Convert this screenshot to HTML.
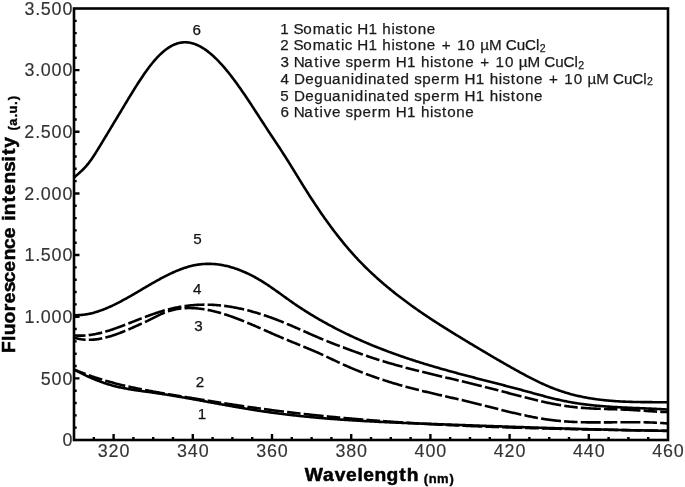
<!DOCTYPE html><html><head><meta charset="utf-8"><style>html,body{margin:0;padding:0;background:#fff;overflow:hidden;width:685px;height:487px;}svg{display:block;will-change:transform;}text{font-family:"Liberation Sans",sans-serif;}</style></head><body>
<svg width="685" height="487" viewBox="0 0 685 487">
<rect width="685" height="487" fill="#fff"/>
<defs><clipPath id="pc"><rect x="74.0" y="8.5" width="594.0" height="431.5"/></clipPath></defs>
<g clip-path="url(#pc)" fill="none" stroke="#000" stroke-width="2.60" stroke-linejoin="round">
<path d="M74.00 177.55 L75.00 176.69 L76.00 175.84 L77.00 174.98 L78.00 174.11 L79.00 173.23 L80.00 172.33 L81.00 171.41 L82.00 170.47 L83.00 169.49 L84.00 168.47 L85.00 167.41 L86.00 166.31 L87.00 165.15 L88.00 163.94 L89.00 162.66 L90.00 161.32 L91.00 159.93 L92.00 158.49 L93.00 157.01 L94.00 155.48 L95.00 153.93 L96.00 152.34 L97.00 150.74 L98.00 149.12 L99.00 147.49 L100.00 145.86 L101.00 144.22 L102.00 142.58 L103.00 140.93 L104.00 139.29 L105.00 137.64 L106.00 135.98 L107.00 134.33 L108.00 132.67 L109.00 131.02 L110.00 129.36 L111.00 127.69 L112.00 126.03 L113.00 124.37 L114.00 122.70 L115.00 121.04 L116.00 119.37 L117.00 117.71 L118.00 116.04 L119.00 114.38 L120.00 112.71 L121.00 111.05 L122.00 109.38 L123.00 107.72 L124.00 106.06 L125.00 104.40 L126.00 102.74 L127.00 101.08 L128.00 99.43 L129.00 97.77 L130.00 96.13 L131.00 94.49 L132.00 92.86 L133.00 91.23 L134.00 89.62 L135.00 88.02 L136.00 86.42 L137.00 84.85 L138.00 83.28 L139.00 81.73 L140.00 80.20 L141.00 78.68 L142.00 77.19 L143.00 75.71 L144.00 74.25 L145.00 72.82 L146.00 71.41 L147.00 70.02 L148.00 68.66 L149.00 67.32 L150.00 66.02 L151.00 64.74 L152.00 63.49 L153.00 62.27 L154.00 61.09 L155.00 59.94 L156.00 58.82 L157.00 57.73 L158.00 56.68 L159.00 55.66 L160.00 54.68 L161.00 53.73 L162.00 52.82 L163.00 51.94 L164.00 51.10 L165.00 50.29 L166.00 49.53 L167.00 48.79 L168.00 48.10 L169.00 47.44 L170.00 46.82 L171.00 46.24 L172.00 45.70 L173.00 45.19 L174.00 44.73 L175.00 44.30 L176.00 43.92 L177.00 43.57 L178.00 43.27 L179.00 43.00 L180.00 42.78 L181.00 42.60 L182.00 42.46 L183.00 42.36 L184.00 42.30 L185.00 42.28 L186.00 42.30 L187.00 42.35 L188.00 42.45 L189.00 42.58 L190.00 42.75 L191.00 42.96 L192.00 43.20 L193.00 43.48 L194.00 43.80 L195.00 44.14 L196.00 44.53 L197.00 44.94 L198.00 45.39 L199.00 45.88 L200.00 46.39 L201.00 46.94 L202.00 47.52 L203.00 48.13 L204.00 48.77 L205.00 49.44 L206.00 50.14 L207.00 50.87 L208.00 51.63 L209.00 52.41 L210.00 53.22 L211.00 54.06 L212.00 54.93 L213.00 55.82 L214.00 56.74 L215.00 57.69 L216.00 58.65 L217.00 59.65 L218.00 60.66 L219.00 61.70 L220.00 62.77 L221.00 63.85 L222.00 64.96 L223.00 66.09 L224.00 67.23 L225.00 68.40 L226.00 69.59 L227.00 70.80 L228.00 72.03 L229.00 73.27 L230.00 74.54 L231.00 75.82 L232.00 77.12 L233.00 78.43 L234.00 79.77 L235.00 81.11 L236.00 82.47 L237.00 83.85 L238.00 85.24 L239.00 86.65 L240.00 88.06 L241.00 89.49 L242.00 90.94 L243.00 92.39 L244.00 93.85 L245.00 95.32 L246.00 96.81 L247.00 98.30 L248.00 99.79 L249.00 101.30 L250.00 102.81 L251.00 104.33 L252.00 105.85 L253.00 107.38 L254.00 108.91 L255.00 110.45 L256.00 111.99 L257.00 113.53 L258.00 115.07 L259.00 116.61 L260.00 118.15 L261.00 119.70 L262.00 121.24 L263.00 122.78 L264.00 124.31 L265.00 125.85 L266.00 127.38 L267.00 128.90 L268.00 130.42 L269.00 131.94 L270.00 133.45 L271.00 134.96 L272.00 136.47 L273.00 137.97 L274.00 139.48 L275.00 140.99 L276.00 142.50 L277.00 144.01 L278.00 145.52 L279.00 147.04 L280.00 148.57 L281.00 150.10 L282.00 151.64 L283.00 153.19 L284.00 154.74 L285.00 156.31 L286.00 157.89 L287.00 159.47 L288.00 161.06 L289.00 162.67 L290.00 164.27 L291.00 165.89 L292.00 167.50 L293.00 169.12 L294.00 170.75 L295.00 172.37 L296.00 174.00 L297.00 175.63 L298.00 177.26 L299.00 178.88 L300.00 180.51 L301.00 182.13 L302.00 183.74 L303.00 185.35 L304.00 186.96 L305.00 188.56 L306.00 190.15 L307.00 191.74 L308.00 193.31 L309.00 194.88 L310.00 196.44 L311.00 197.99 L312.00 199.53 L313.00 201.05 L314.00 202.57 L315.00 204.09 L316.00 205.59 L317.00 207.08 L318.00 208.56 L319.00 210.03 L320.00 211.49 L321.00 212.95 L322.00 214.39 L323.00 215.82 L324.00 217.25 L325.00 218.66 L326.00 220.07 L327.00 221.46 L328.00 222.84 L329.00 224.22 L330.00 225.58 L331.00 226.94 L332.00 228.28 L333.00 229.61 L334.00 230.94 L335.00 232.25 L336.00 233.55 L337.00 234.85 L338.00 236.13 L339.00 237.40 L340.00 238.66 L341.00 239.91 L342.00 241.15 L343.00 242.38 L344.00 243.60 L345.00 244.81 L346.00 246.01 L347.00 247.19 L348.00 248.37 L349.00 249.53 L350.00 250.69 L351.00 251.83 L352.00 252.96 L353.00 254.08 L354.00 255.19 L355.00 256.29 L356.00 257.38 L357.00 258.46 L358.00 259.53 L359.00 260.58 L360.00 261.63 L361.00 262.67 L362.00 263.69 L363.00 264.71 L364.00 265.72 L365.00 266.72 L366.00 267.71 L367.00 268.69 L368.00 269.66 L369.00 270.62 L370.00 271.58 L371.00 272.52 L372.00 273.46 L373.00 274.39 L374.00 275.32 L375.00 276.23 L376.00 277.14 L377.00 278.04 L378.00 278.93 L379.00 279.81 L380.00 280.69 L381.00 281.56 L382.00 282.43 L383.00 283.29 L384.00 284.14 L385.00 284.99 L386.00 285.83 L387.00 286.66 L388.00 287.49 L389.00 288.31 L390.00 289.13 L391.00 289.95 L392.00 290.75 L393.00 291.56 L394.00 292.36 L395.00 293.15 L396.00 293.94 L397.00 294.72 L398.00 295.50 L399.00 296.27 L400.00 297.04 L401.00 297.81 L402.00 298.57 L403.00 299.33 L404.00 300.08 L405.00 300.83 L406.00 301.57 L407.00 302.31 L408.00 303.05 L409.00 303.78 L410.00 304.51 L411.00 305.23 L412.00 305.95 L413.00 306.67 L414.00 307.38 L415.00 308.09 L416.00 308.79 L417.00 309.49 L418.00 310.19 L419.00 310.89 L420.00 311.58 L421.00 312.27 L422.00 312.95 L423.00 313.63 L424.00 314.31 L425.00 314.99 L426.00 315.66 L427.00 316.33 L428.00 317.00 L429.00 317.66 L430.00 318.32 L431.00 318.98 L432.00 319.64 L433.00 320.29 L434.00 320.94 L435.00 321.59 L436.00 322.24 L437.00 322.88 L438.00 323.53 L439.00 324.17 L440.00 324.80 L441.00 325.44 L442.00 326.07 L443.00 326.71 L444.00 327.34 L445.00 327.96 L446.00 328.59 L447.00 329.22 L448.00 329.84 L449.00 330.46 L450.00 331.08 L451.00 331.70 L452.00 332.32 L453.00 332.93 L454.00 333.55 L455.00 334.16 L456.00 334.77 L457.00 335.39 L458.00 336.00 L459.00 336.61 L460.00 337.21 L461.00 337.82 L462.00 338.43 L463.00 339.04 L464.00 339.64 L465.00 340.25 L466.00 340.85 L467.00 341.46 L468.00 342.06 L469.00 342.66 L470.00 343.27 L471.00 343.87 L472.00 344.47 L473.00 345.07 L474.00 345.67 L475.00 346.27 L476.00 346.87 L477.00 347.47 L478.00 348.07 L479.00 348.66 L480.00 349.26 L481.00 349.86 L482.00 350.45 L483.00 351.04 L484.00 351.64 L485.00 352.23 L486.00 352.82 L487.00 353.41 L488.00 354.00 L489.00 354.59 L490.00 355.18 L491.00 355.77 L492.00 356.35 L493.00 356.94 L494.00 357.52 L495.00 358.10 L496.00 358.69 L497.00 359.27 L498.00 359.85 L499.00 360.43 L500.00 361.00 L501.00 361.58 L502.00 362.16 L503.00 362.73 L504.00 363.31 L505.00 363.88 L506.00 364.45 L507.00 365.02 L508.00 365.59 L509.00 366.16 L510.00 366.72 L511.00 367.29 L512.00 367.85 L513.00 368.41 L514.00 368.98 L515.00 369.54 L516.00 370.09 L517.00 370.65 L518.00 371.20 L519.00 371.75 L520.00 372.30 L521.00 372.85 L522.00 373.39 L523.00 373.94 L524.00 374.47 L525.00 375.01 L526.00 375.54 L527.00 376.07 L528.00 376.60 L529.00 377.12 L530.00 377.64 L531.00 378.15 L532.00 378.66 L533.00 379.17 L534.00 379.67 L535.00 380.17 L536.00 380.66 L537.00 381.15 L538.00 381.64 L539.00 382.12 L540.00 382.59 L541.00 383.06 L542.00 383.52 L543.00 383.98 L544.00 384.43 L545.00 384.88 L546.00 385.32 L547.00 385.75 L548.00 386.18 L549.00 386.60 L550.00 387.02 L551.00 387.43 L552.00 387.83 L553.00 388.22 L554.00 388.61 L555.00 388.99 L556.00 389.37 L557.00 389.73 L558.00 390.09 L559.00 390.45 L560.00 390.79 L561.00 391.13 L562.00 391.46 L563.00 391.79 L564.00 392.11 L565.00 392.42 L566.00 392.72 L567.00 393.02 L568.00 393.31 L569.00 393.60 L570.00 393.88 L571.00 394.15 L572.00 394.42 L573.00 394.68 L574.00 394.94 L575.00 395.19 L576.00 395.43 L577.00 395.67 L578.00 395.90 L579.00 396.13 L580.00 396.35 L581.00 396.56 L582.00 396.77 L583.00 396.98 L584.00 397.18 L585.00 397.37 L586.00 397.56 L587.00 397.74 L588.00 397.92 L589.00 398.10 L590.00 398.27 L591.00 398.43 L592.00 398.59 L593.00 398.75 L594.00 398.90 L595.00 399.04 L596.00 399.18 L597.00 399.32 L598.00 399.45 L599.00 399.58 L600.00 399.71 L601.00 399.83 L602.00 399.94 L603.00 400.06 L604.00 400.16 L605.00 400.27 L606.00 400.37 L607.00 400.47 L608.00 400.56 L609.00 400.65 L610.00 400.74 L611.00 400.82 L612.00 400.90 L613.00 400.98 L614.00 401.05 L615.00 401.12 L616.00 401.19 L617.00 401.25 L618.00 401.31 L619.00 401.37 L620.00 401.43 L621.00 401.48 L622.00 401.53 L623.00 401.58 L624.00 401.63 L625.00 401.67 L626.00 401.71 L627.00 401.75 L628.00 401.78 L629.00 401.82 L630.00 401.85 L631.00 401.88 L632.00 401.91 L633.00 401.93 L634.00 401.96 L635.00 401.98 L636.00 402.00 L637.00 402.02 L638.00 402.04 L639.00 402.06 L640.00 402.07 L641.00 402.09 L642.00 402.10 L643.00 402.11 L644.00 402.12 L645.00 402.13 L646.00 402.14 L647.00 402.15 L648.00 402.15 L649.00 402.16 L650.00 402.16 L651.00 402.17 L652.00 402.17 L653.00 402.18 L654.00 402.18 L655.00 402.18 L656.00 402.19 L657.00 402.19 L658.00 402.19 L659.00 402.19 L660.00 402.20 L661.00 402.20 L662.00 402.20 L663.00 402.21 L664.00 402.21 L665.00 402.21 L666.00 402.22 L667.00 402.22 L668.00 402.23"/>
<path d="M74.00 315.13 L75.00 315.17 L76.00 315.19 L77.00 315.18 L78.00 315.16 L79.00 315.13 L80.00 315.07 L81.00 315.00 L82.00 314.91 L83.00 314.81 L84.00 314.69 L85.00 314.55 L86.00 314.40 L87.00 314.23 L88.00 314.04 L89.00 313.85 L90.00 313.63 L91.00 313.40 L92.00 313.16 L93.00 312.91 L94.00 312.64 L95.00 312.36 L96.00 312.06 L97.00 311.76 L98.00 311.44 L99.00 311.10 L100.00 310.76 L101.00 310.40 L102.00 310.04 L103.00 309.66 L104.00 309.27 L105.00 308.87 L106.00 308.47 L107.00 308.05 L108.00 307.62 L109.00 307.18 L110.00 306.73 L111.00 306.28 L112.00 305.81 L113.00 305.34 L114.00 304.86 L115.00 304.37 L116.00 303.88 L117.00 303.38 L118.00 302.87 L119.00 302.35 L120.00 301.83 L121.00 301.30 L122.00 300.77 L123.00 300.23 L124.00 299.69 L125.00 299.14 L126.00 298.58 L127.00 298.03 L128.00 297.46 L129.00 296.90 L130.00 296.33 L131.00 295.76 L132.00 295.18 L133.00 294.60 L134.00 294.02 L135.00 293.44 L136.00 292.86 L137.00 292.27 L138.00 291.68 L139.00 291.10 L140.00 290.51 L141.00 289.92 L142.00 289.33 L143.00 288.74 L144.00 288.15 L145.00 287.56 L146.00 286.97 L147.00 286.39 L148.00 285.80 L149.00 285.22 L150.00 284.64 L151.00 284.06 L152.00 283.49 L153.00 282.91 L154.00 282.34 L155.00 281.78 L156.00 281.21 L157.00 280.66 L158.00 280.10 L159.00 279.55 L160.00 279.01 L161.00 278.47 L162.00 277.93 L163.00 277.40 L164.00 276.88 L165.00 276.37 L166.00 275.86 L167.00 275.35 L168.00 274.86 L169.00 274.37 L170.00 273.89 L171.00 273.41 L172.00 272.95 L173.00 272.49 L174.00 272.04 L175.00 271.60 L176.00 271.17 L177.00 270.75 L178.00 270.34 L179.00 269.94 L180.00 269.55 L181.00 269.17 L182.00 268.81 L183.00 268.45 L184.00 268.10 L185.00 267.77 L186.00 267.45 L187.00 267.14 L188.00 266.84 L189.00 266.56 L190.00 266.29 L191.00 266.03 L192.00 265.79 L193.00 265.56 L194.00 265.34 L195.00 265.14 L196.00 264.96 L197.00 264.79 L198.00 264.63 L199.00 264.49 L200.00 264.36 L201.00 264.25 L202.00 264.15 L203.00 264.06 L204.00 263.99 L205.00 263.94 L206.00 263.90 L207.00 263.87 L208.00 263.85 L209.00 263.85 L210.00 263.86 L211.00 263.89 L212.00 263.93 L213.00 263.99 L214.00 264.05 L215.00 264.13 L216.00 264.23 L217.00 264.33 L218.00 264.45 L219.00 264.58 L220.00 264.73 L221.00 264.89 L222.00 265.06 L223.00 265.24 L224.00 265.44 L225.00 265.65 L226.00 265.87 L227.00 266.10 L228.00 266.34 L229.00 266.60 L230.00 266.87 L231.00 267.15 L232.00 267.44 L233.00 267.75 L234.00 268.07 L235.00 268.39 L236.00 268.73 L237.00 269.08 L238.00 269.45 L239.00 269.82 L240.00 270.20 L241.00 270.60 L242.00 271.01 L243.00 271.43 L244.00 271.85 L245.00 272.29 L246.00 272.74 L247.00 273.20 L248.00 273.68 L249.00 274.16 L250.00 274.65 L251.00 275.15 L252.00 275.66 L253.00 276.19 L254.00 276.72 L255.00 277.26 L256.00 277.82 L257.00 278.38 L258.00 278.95 L259.00 279.53 L260.00 280.12 L261.00 280.72 L262.00 281.33 L263.00 281.95 L264.00 282.58 L265.00 283.22 L266.00 283.87 L267.00 284.52 L268.00 285.18 L269.00 285.85 L270.00 286.53 L271.00 287.21 L272.00 287.90 L273.00 288.59 L274.00 289.29 L275.00 290.00 L276.00 290.70 L277.00 291.41 L278.00 292.13 L279.00 292.84 L280.00 293.56 L281.00 294.28 L282.00 295.00 L283.00 295.72 L284.00 296.44 L285.00 297.16 L286.00 297.88 L287.00 298.59 L288.00 299.31 L289.00 300.02 L290.00 300.73 L291.00 301.43 L292.00 302.13 L293.00 302.83 L294.00 303.52 L295.00 304.20 L296.00 304.88 L297.00 305.56 L298.00 306.23 L299.00 306.90 L300.00 307.56 L301.00 308.21 L302.00 308.86 L303.00 309.51 L304.00 310.15 L305.00 310.79 L306.00 311.42 L307.00 312.05 L308.00 312.68 L309.00 313.29 L310.00 313.91 L311.00 314.52 L312.00 315.13 L313.00 315.73 L314.00 316.33 L315.00 316.92 L316.00 317.51 L317.00 318.10 L318.00 318.68 L319.00 319.26 L320.00 319.83 L321.00 320.41 L322.00 320.97 L323.00 321.54 L324.00 322.10 L325.00 322.65 L326.00 323.21 L327.00 323.76 L328.00 324.30 L329.00 324.85 L330.00 325.39 L331.00 325.92 L332.00 326.45 L333.00 326.98 L334.00 327.51 L335.00 328.03 L336.00 328.55 L337.00 329.07 L338.00 329.58 L339.00 330.09 L340.00 330.59 L341.00 331.10 L342.00 331.60 L343.00 332.09 L344.00 332.58 L345.00 333.08 L346.00 333.56 L347.00 334.05 L348.00 334.53 L349.00 335.00 L350.00 335.48 L351.00 335.95 L352.00 336.42 L353.00 336.89 L354.00 337.35 L355.00 337.81 L356.00 338.26 L357.00 338.72 L358.00 339.17 L359.00 339.62 L360.00 340.06 L361.00 340.51 L362.00 340.95 L363.00 341.38 L364.00 341.82 L365.00 342.25 L366.00 342.68 L367.00 343.10 L368.00 343.53 L369.00 343.95 L370.00 344.37 L371.00 344.78 L372.00 345.20 L373.00 345.61 L374.00 346.02 L375.00 346.42 L376.00 346.82 L377.00 347.22 L378.00 347.62 L379.00 348.02 L380.00 348.41 L381.00 348.80 L382.00 349.19 L383.00 349.58 L384.00 349.96 L385.00 350.34 L386.00 350.72 L387.00 351.10 L388.00 351.47 L389.00 351.85 L390.00 352.22 L391.00 352.59 L392.00 352.95 L393.00 353.32 L394.00 353.68 L395.00 354.04 L396.00 354.40 L397.00 354.75 L398.00 355.10 L399.00 355.46 L400.00 355.81 L401.00 356.15 L402.00 356.50 L403.00 356.84 L404.00 357.18 L405.00 357.52 L406.00 357.86 L407.00 358.20 L408.00 358.53 L409.00 358.87 L410.00 359.20 L411.00 359.53 L412.00 359.85 L413.00 360.18 L414.00 360.50 L415.00 360.82 L416.00 361.15 L417.00 361.46 L418.00 361.78 L419.00 362.10 L420.00 362.41 L421.00 362.72 L422.00 363.04 L423.00 363.34 L424.00 363.65 L425.00 363.96 L426.00 364.26 L427.00 364.57 L428.00 364.87 L429.00 365.17 L430.00 365.47 L431.00 365.77 L432.00 366.07 L433.00 366.36 L434.00 366.66 L435.00 366.95 L436.00 367.24 L437.00 367.53 L438.00 367.82 L439.00 368.11 L440.00 368.40 L441.00 368.68 L442.00 368.97 L443.00 369.25 L444.00 369.53 L445.00 369.81 L446.00 370.09 L447.00 370.37 L448.00 370.65 L449.00 370.93 L450.00 371.21 L451.00 371.48 L452.00 371.76 L453.00 372.03 L454.00 372.30 L455.00 372.58 L456.00 372.85 L457.00 373.12 L458.00 373.39 L459.00 373.66 L460.00 373.93 L461.00 374.19 L462.00 374.46 L463.00 374.73 L464.00 374.99 L465.00 375.26 L466.00 375.52 L467.00 375.78 L468.00 376.05 L469.00 376.31 L470.00 376.57 L471.00 376.83 L472.00 377.10 L473.00 377.36 L474.00 377.62 L475.00 377.88 L476.00 378.14 L477.00 378.40 L478.00 378.66 L479.00 378.92 L480.00 379.17 L481.00 379.43 L482.00 379.69 L483.00 379.95 L484.00 380.21 L485.00 380.46 L486.00 380.72 L487.00 380.98 L488.00 381.24 L489.00 381.49 L490.00 381.75 L491.00 382.01 L492.00 382.27 L493.00 382.52 L494.00 382.78 L495.00 383.04 L496.00 383.30 L497.00 383.56 L498.00 383.81 L499.00 384.07 L500.00 384.33 L501.00 384.59 L502.00 384.85 L503.00 385.11 L504.00 385.37 L505.00 385.63 L506.00 385.89 L507.00 386.15 L508.00 386.41 L509.00 386.67 L510.00 386.94 L511.00 387.20 L512.00 387.46 L513.00 387.73 L514.00 387.99 L515.00 388.26 L516.00 388.52 L517.00 388.79 L518.00 389.06 L519.00 389.32 L520.00 389.59 L521.00 389.86 L522.00 390.13 L523.00 390.40 L524.00 390.67 L525.00 390.95 L526.00 391.22 L527.00 391.49 L528.00 391.77 L529.00 392.04 L530.00 392.32 L531.00 392.59 L532.00 392.87 L533.00 393.14 L534.00 393.42 L535.00 393.69 L536.00 393.97 L537.00 394.24 L538.00 394.51 L539.00 394.78 L540.00 395.05 L541.00 395.32 L542.00 395.59 L543.00 395.86 L544.00 396.13 L545.00 396.39 L546.00 396.65 L547.00 396.91 L548.00 397.17 L549.00 397.43 L550.00 397.68 L551.00 397.93 L552.00 398.18 L553.00 398.43 L554.00 398.67 L555.00 398.91 L556.00 399.15 L557.00 399.38 L558.00 399.62 L559.00 399.84 L560.00 400.07 L561.00 400.29 L562.00 400.50 L563.00 400.72 L564.00 400.93 L565.00 401.13 L566.00 401.33 L567.00 401.53 L568.00 401.72 L569.00 401.91 L570.00 402.09 L571.00 402.27 L572.00 402.45 L573.00 402.62 L574.00 402.78 L575.00 402.95 L576.00 403.11 L577.00 403.27 L578.00 403.42 L579.00 403.57 L580.00 403.71 L581.00 403.86 L582.00 403.99 L583.00 404.13 L584.00 404.26 L585.00 404.39 L586.00 404.52 L587.00 404.64 L588.00 404.76 L589.00 404.88 L590.00 404.99 L591.00 405.10 L592.00 405.21 L593.00 405.32 L594.00 405.42 L595.00 405.52 L596.00 405.62 L597.00 405.71 L598.00 405.80 L599.00 405.89 L600.00 405.98 L601.00 406.07 L602.00 406.15 L603.00 406.23 L604.00 406.31 L605.00 406.39 L606.00 406.46 L607.00 406.53 L608.00 406.61 L609.00 406.67 L610.00 406.74 L611.00 406.81 L612.00 406.87 L613.00 406.93 L614.00 406.99 L615.00 407.05 L616.00 407.11 L617.00 407.17 L618.00 407.22 L619.00 407.28 L620.00 407.33 L621.00 407.38 L622.00 407.43 L623.00 407.48 L624.00 407.53 L625.00 407.58 L626.00 407.62 L627.00 407.67 L628.00 407.71 L629.00 407.76 L630.00 407.80 L631.00 407.84 L632.00 407.89 L633.00 407.93 L634.00 407.97 L635.00 408.01 L636.00 408.05 L637.00 408.09 L638.00 408.13 L639.00 408.17 L640.00 408.21 L641.00 408.26 L642.00 408.30 L643.00 408.34 L644.00 408.38 L645.00 408.42 L646.00 408.46 L647.00 408.50 L648.00 408.54 L649.00 408.59 L650.00 408.63 L651.00 408.67 L652.00 408.72 L653.00 408.76 L654.00 408.81 L655.00 408.85 L656.00 408.90 L657.00 408.95 L658.00 409.00 L659.00 409.05 L660.00 409.10 L661.00 409.15 L662.00 409.20 L663.00 409.26 L664.00 409.32 L665.00 409.37 L666.00 409.43 L667.00 409.49 L668.00 409.56"/>
<path d="M74.00 335.35 L74.25 335.37 L75.25 335.46 L76.25 335.53 L77.25 335.58 L78.25 335.62 L79.25 335.64 L80.25 335.65 L81.25 335.64 L82.25 335.62 L83.25 335.58 L84.25 335.53 L85.25 335.47 L85.55 335.44 M88.71 335.14 L88.75 335.13 L89.75 335.01 L90.75 334.87 L91.75 334.72 L92.75 334.56 L93.75 334.39 L94.75 334.21 L95.75 334.01 L96.75 333.81 L97.75 333.59 L98.75 333.37 L99.75 333.13 L100.75 332.89 L101.75 332.63 L102.13 332.54 M105.28 331.67 L105.50 331.61 L106.50 331.31 L107.50 331.01 L108.50 330.70 L109.50 330.39 L110.50 330.07 L111.50 329.74 L112.50 329.41 L113.50 329.07 L114.50 328.72 L115.50 328.37 L116.50 328.01 L117.50 327.65 L118.50 327.29 L119.50 326.92 L120.50 326.55 L121.50 326.17 L122.50 325.79 L123.50 325.41 L124.50 325.03 L125.18 324.76 M128.33 323.53 L128.50 323.47 L129.50 323.07 L130.50 322.68 L131.50 322.28 L132.50 321.89 L133.50 321.49 L134.50 321.10 L135.50 320.70 L136.50 320.31 L137.50 319.92 L138.50 319.53 L139.50 319.14 L140.50 318.75 L141.50 318.36 L141.72 318.28 M144.87 317.07 L145.00 317.03 L146.00 316.65 L147.00 316.28 L148.00 315.91 L149.00 315.54 L150.00 315.18 L151.00 314.82 L152.00 314.46 L153.00 314.11 L154.00 313.76 L155.00 313.42 L156.00 313.08 L157.00 312.74 L158.00 312.42 L159.00 312.09 L160.00 311.78 L161.00 311.46 L162.00 311.16 L163.00 310.86 L164.00 310.57 L164.77 310.35 M167.93 309.50 L168.00 309.48 L169.00 309.23 L170.00 308.98 L171.00 308.74 L172.00 308.50 L173.00 308.27 L174.00 308.05 L175.00 307.84 L176.00 307.63 L177.00 307.43 L178.00 307.24 L179.00 307.05 L180.00 306.87 L181.00 306.70 L181.35 306.64 M184.50 306.15 L184.75 306.12 L185.75 305.98 L186.75 305.85 L187.75 305.72 L188.75 305.60 L189.75 305.49 L190.75 305.39 L191.75 305.29 L192.75 305.20 L193.75 305.12 L194.75 305.04 L195.75 304.97 L196.75 304.91 L197.75 304.86 L198.75 304.81 L199.75 304.77 L200.75 304.73 L201.75 304.71 L202.75 304.69 L203.75 304.67 L204.45 304.67 M207.61 304.69 L207.75 304.69 L208.75 304.71 L209.75 304.74 L210.75 304.77 L211.75 304.81 L212.75 304.86 L213.75 304.92 L214.75 304.98 L215.75 305.04 L216.75 305.12 L217.75 305.20 L218.75 305.29 L219.75 305.38 L220.75 305.48 L221.04 305.51 M224.20 305.87 L224.25 305.87 L225.25 306.00 L226.25 306.14 L227.25 306.27 L228.25 306.42 L229.25 306.57 L230.25 306.73 L231.25 306.89 L232.25 307.06 L233.25 307.23 L234.25 307.41 L235.25 307.60 L236.25 307.79 L237.25 307.99 L238.25 308.19 L239.25 308.40 L240.25 308.61 L241.25 308.83 L242.25 309.05 L243.25 309.28 L244.13 309.49 M247.29 310.26 L247.50 310.31 L248.50 310.57 L249.50 310.83 L250.50 311.10 L251.50 311.37 L252.50 311.65 L253.50 311.93 L254.50 312.21 L255.50 312.50 L256.50 312.80 L257.50 313.10 L258.50 313.40 L259.50 313.71 L260.50 314.03 L260.69 314.09 M263.85 315.11 L264.00 315.16 L265.00 315.50 L266.00 315.83 L267.00 316.18 L268.00 316.52 L269.00 316.87 L270.00 317.23 L271.00 317.59 L272.00 317.95 L273.00 318.32 L274.00 318.69 L275.00 319.07 L276.00 319.45 L277.00 319.83 L278.00 320.21 L279.00 320.61 L280.00 321.00 L281.00 321.40 L282.00 321.80 L283.00 322.20 L283.74 322.51 M286.89 323.81 L287.00 323.86 L288.00 324.28 L289.00 324.70 L290.00 325.13 L291.00 325.55 L292.00 325.98 L293.00 326.42 L294.00 326.85 L295.00 327.29 L296.00 327.72 L297.00 328.16 L298.00 328.60 L299.00 329.04 L300.00 329.48 L300.27 329.60 M303.42 331.00 L303.50 331.03 L304.50 331.47 L305.50 331.92 L306.50 332.36 L307.50 332.80 L308.50 333.24 L309.50 333.69 L310.50 334.13 L311.50 334.57 L312.50 335.00 L313.50 335.44 L314.50 335.88 L315.50 336.31 L316.50 336.74 L317.50 337.17 L318.50 337.60 L319.50 338.02 L320.50 338.44 L321.50 338.86 L322.50 339.28 L323.29 339.61 M326.44 340.90 L326.50 340.92 L327.50 341.33 L328.50 341.73 L329.50 342.13 L330.50 342.52 L331.50 342.92 L332.50 343.31 L333.50 343.70 L334.50 344.09 L335.50 344.47 L336.50 344.86 L337.50 345.24 L338.50 345.62 L339.50 346.00 L339.83 346.13 M342.98 347.32 L343.00 347.32 L344.00 347.70 L345.00 348.07 L346.00 348.44 L347.00 348.82 L348.00 349.19 L349.00 349.56 L350.00 349.93 L351.00 350.29 L352.00 350.66 L353.00 351.03 L354.00 351.39 L355.00 351.76 L356.00 352.12 L357.00 352.48 L358.00 352.84 L359.00 353.20 L360.00 353.55 L361.00 353.91 L362.00 354.26 L362.87 354.57 M366.03 355.67 L366.25 355.74 L367.25 356.09 L368.25 356.43 L369.25 356.77 L370.25 357.11 L371.25 357.44 L372.25 357.78 L373.25 358.11 L374.25 358.43 L375.25 358.76 L376.25 359.08 L377.25 359.40 L378.25 359.72 L379.25 360.04 L379.43 360.09 M382.58 361.07 L382.75 361.12 L383.75 361.43 L384.75 361.73 L385.75 362.03 L386.75 362.33 L387.75 362.63 L388.75 362.92 L389.75 363.21 L390.75 363.50 L391.75 363.79 L392.75 364.08 L393.75 364.36 L394.75 364.64 L395.75 364.92 L396.75 365.20 L397.75 365.48 L398.75 365.75 L399.75 366.03 L400.75 366.30 L401.75 366.57 L402.50 366.77 M405.65 367.61 L405.75 367.64 L406.75 367.90 L407.75 368.16 L408.75 368.42 L409.75 368.68 L410.75 368.94 L411.75 369.20 L412.75 369.45 L413.75 369.71 L414.75 369.96 L415.75 370.22 L416.75 370.47 L417.75 370.72 L418.75 370.97 L419.06 371.05 M422.22 371.83 L422.25 371.84 L423.25 372.08 L424.25 372.33 L425.25 372.57 L426.25 372.82 L427.25 373.06 L428.25 373.30 L429.25 373.55 L430.25 373.79 L431.25 374.03 L432.25 374.27 L433.25 374.51 L434.25 374.75 L435.25 374.99 L436.25 375.23 L437.25 375.46 L438.25 375.70 L439.25 375.94 L440.25 376.18 L441.25 376.41 L442.14 376.62 M445.30 377.37 L445.50 377.42 L446.50 377.65 L447.50 377.89 L448.50 378.12 L449.50 378.36 L450.50 378.59 L451.50 378.83 L452.50 379.06 L453.50 379.30 L454.50 379.54 L455.50 379.77 L456.50 380.01 L457.50 380.24 L458.50 380.48 L458.72 380.53 M461.87 381.28 L462.00 381.31 L463.00 381.54 L464.00 381.78 L465.00 382.02 L466.00 382.26 L467.00 382.50 L468.00 382.74 L469.00 382.98 L470.00 383.22 L471.00 383.46 L472.00 383.70 L473.00 383.94 L474.00 384.19 L475.00 384.43 L476.00 384.67 L477.00 384.92 L478.00 385.16 L479.00 385.41 L480.00 385.66 L481.00 385.90 L481.80 386.10 M484.95 386.89 L485.00 386.91 L486.00 387.16 L487.00 387.41 L488.00 387.67 L489.00 387.92 L490.00 388.18 L491.00 388.44 L492.00 388.70 L493.00 388.96 L494.00 389.22 L495.00 389.48 L496.00 389.74 L497.00 390.00 L498.00 390.27 L498.37 390.36 M501.52 391.20 L501.75 391.26 L502.75 391.53 L503.75 391.80 L504.75 392.06 L505.75 392.33 L506.75 392.60 L507.75 392.87 L508.75 393.13 L509.75 393.40 L510.75 393.67 L511.75 393.93 L512.75 394.20 L513.75 394.47 L514.75 394.73 L515.75 395.00 L516.75 395.26 L517.75 395.52 L518.75 395.79 L519.75 396.05 L520.75 396.31 L521.44 396.49 M524.60 397.31 L524.75 397.35 L525.75 397.60 L526.75 397.86 L527.75 398.11 L528.75 398.36 L529.75 398.61 L530.75 398.86 L531.75 399.11 L532.75 399.35 L533.75 399.59 L534.75 399.84 L535.75 400.08 L536.75 400.31 L537.75 400.55 L538.01 400.61 M541.17 401.34 L541.25 401.36 L542.25 401.58 L543.25 401.80 L544.25 402.02 L545.25 402.24 L546.25 402.46 L547.25 402.67 L548.25 402.88 L549.25 403.08 L550.25 403.29 L551.25 403.49 L552.25 403.69 L553.25 403.88 L554.25 404.07 L555.25 404.26 L556.25 404.44 L557.25 404.63 L558.25 404.80 L559.25 404.98 L560.25 405.15 L561.10 405.29 M564.26 405.79 L564.50 405.83 L565.50 405.98 L566.50 406.13 L567.50 406.27 L568.50 406.41 L569.50 406.54 L570.50 406.67 L571.50 406.79 L572.50 406.91 L573.50 407.03 L574.50 407.14 L575.50 407.25 L576.50 407.35 L577.50 407.45 L577.68 407.46 M580.84 407.75 L581.00 407.76 L582.00 407.84 L583.00 407.92 L584.00 407.99 L585.00 408.06 L586.00 408.13 L587.00 408.20 L588.00 408.26 L589.00 408.32 L590.00 408.38 L591.00 408.43 L592.00 408.48 L593.00 408.53 L594.00 408.58 L595.00 408.62 L596.00 408.67 L597.00 408.71 L598.00 408.75 L599.00 408.79 L600.00 408.82 L600.79 408.85 M603.95 408.96 L604.00 408.96 L605.00 408.99 L606.00 409.02 L607.00 409.05 L608.00 409.08 L609.00 409.11 L610.00 409.14 L611.00 409.17 L612.00 409.20 L613.00 409.23 L614.00 409.26 L615.00 409.29 L616.00 409.32 L617.00 409.35 L617.38 409.37 M620.54 409.47 L620.75 409.48 L621.75 409.52 L622.75 409.55 L623.75 409.59 L624.75 409.63 L625.75 409.68 L626.75 409.72 L627.75 409.77 L628.75 409.81 L629.75 409.87 L630.75 409.92 L631.75 409.97 L632.75 410.03 L633.75 410.09 L634.75 410.15 L635.75 410.21 L636.75 410.28 L637.75 410.34 L638.75 410.41 L639.75 410.48 L640.48 410.52 M643.64 410.74 L643.75 410.75 L644.75 410.82 L645.75 410.89 L646.75 410.96 L647.75 411.03 L648.75 411.09 L649.75 411.16 L650.75 411.23 L651.75 411.29 L652.75 411.36 L653.75 411.42 L654.75 411.48 L655.75 411.54 L656.75 411.60 L657.07 411.62 M660.23 411.79 L660.25 411.79 L661.25 411.84 L662.25 411.88 L663.25 411.92 L664.25 411.96 L665.25 412.00 L666.25 412.03 L667.25 412.06 L668.00 412.08"/>
<path d="M74.00 337.69 L74.25 337.77 L75.25 338.05 L76.25 338.31 L77.25 338.55 L78.25 338.77 L79.25 338.97 L80.25 339.14 L81.25 339.29 L82.25 339.43 L83.25 339.54 L84.25 339.64 L85.25 339.71 L85.64 339.73 M88.80 339.82 L89.00 339.82 L90.00 339.81 L91.00 339.78 L92.00 339.73 L93.00 339.67 L94.00 339.59 L95.00 339.49 L96.00 339.38 L97.00 339.25 L98.00 339.11 L99.00 338.95 L100.00 338.78 L101.00 338.59 L102.00 338.40 L102.22 338.35 M105.38 337.63 L105.50 337.60 L106.50 337.35 L107.50 337.08 L108.50 336.80 L109.50 336.51 L110.50 336.21 L111.50 335.90 L112.50 335.59 L113.50 335.26 L114.50 334.92 L115.50 334.57 L116.50 334.22 L117.50 333.86 L118.50 333.49 L119.50 333.11 L120.50 332.72 L121.50 332.33 L122.50 331.94 L123.50 331.53 L124.50 331.12 L125.28 330.80 M128.43 329.47 L128.50 329.44 L129.50 329.01 L130.50 328.57 L131.50 328.13 L132.50 327.69 L133.50 327.25 L134.50 326.80 L135.50 326.36 L136.50 325.91 L137.50 325.46 L138.50 325.01 L139.50 324.56 L140.50 324.10 L141.50 323.65 L141.81 323.51 M144.95 322.05 L145.00 322.03 L146.00 321.56 L147.00 321.08 L148.00 320.61 L149.00 320.12 L150.00 319.64 L151.00 319.14 L152.00 318.64 L153.00 318.14 L154.00 317.63 L155.00 317.12 L156.00 316.61 L157.00 316.10 L158.00 315.60 L159.00 315.10 L160.00 314.61 L161.00 314.14 L162.00 313.69 L163.00 313.25 L164.00 312.83 L164.81 312.51 M167.96 311.37 L168.00 311.36 L169.00 311.03 L170.00 310.73 L171.00 310.44 L172.00 310.18 L173.00 309.92 L174.00 309.69 L175.00 309.47 L176.00 309.27 L177.00 309.09 L178.00 308.92 L179.00 308.77 L180.00 308.63 L181.00 308.51 L181.38 308.47 M184.54 308.20 L184.75 308.18 L185.75 308.13 L186.75 308.09 L187.75 308.06 L188.75 308.05 L189.75 308.05 L190.75 308.06 L191.75 308.09 L192.75 308.12 L193.75 308.17 L194.75 308.23 L195.75 308.30 L196.75 308.38 L197.75 308.47 L198.75 308.58 L199.75 308.69 L200.75 308.81 L201.75 308.94 L202.75 309.08 L203.75 309.24 L204.48 309.35 M207.64 309.91 L207.75 309.93 L208.75 310.12 L209.75 310.33 L210.75 310.54 L211.75 310.76 L212.75 310.99 L213.75 311.22 L214.75 311.47 L215.75 311.72 L216.75 311.98 L217.75 312.24 L218.75 312.52 L219.75 312.80 L220.75 313.08 L221.05 313.17 M224.21 314.13 L224.25 314.14 L225.25 314.45 L226.25 314.78 L227.25 315.10 L228.25 315.44 L229.25 315.78 L230.25 316.12 L231.25 316.47 L232.25 316.83 L233.25 317.19 L234.25 317.55 L235.25 317.92 L236.25 318.29 L237.25 318.67 L238.25 319.05 L239.25 319.44 L240.25 319.83 L241.25 320.23 L242.25 320.62 L243.25 321.03 L244.10 321.37 M247.25 322.67 L247.50 322.77 L248.50 323.19 L249.50 323.61 L250.50 324.03 L251.50 324.46 L252.50 324.88 L253.50 325.31 L254.50 325.74 L255.50 326.18 L256.50 326.61 L257.50 327.05 L258.50 327.49 L259.50 327.92 L260.50 328.36 L260.63 328.42 M263.78 329.81 L264.00 329.91 L265.00 330.35 L266.00 330.79 L267.00 331.23 L268.00 331.68 L269.00 332.12 L270.00 332.56 L271.00 333.00 L272.00 333.44 L273.00 333.88 L274.00 334.32 L275.00 334.76 L276.00 335.19 L277.00 335.63 L278.00 336.06 L279.00 336.49 L280.00 336.92 L281.00 337.35 L282.00 337.77 L283.00 338.20 L283.65 338.47 M286.80 339.79 L287.00 339.87 L288.00 340.28 L289.00 340.69 L290.00 341.11 L291.00 341.52 L292.00 341.92 L293.00 342.33 L294.00 342.74 L295.00 343.15 L296.00 343.55 L297.00 343.96 L298.00 344.37 L299.00 344.78 L300.00 345.18 L300.19 345.26 M303.34 346.55 L303.50 346.62 L304.50 347.03 L305.50 347.44 L306.50 347.85 L307.50 348.27 L308.50 348.69 L309.50 349.10 L310.50 349.53 L311.50 349.95 L312.50 350.37 L313.50 350.80 L314.50 351.23 L315.50 351.67 L316.50 352.10 L317.50 352.54 L318.50 352.99 L319.50 353.43 L320.50 353.88 L321.50 354.34 L322.50 354.79 L323.21 355.12 M326.36 356.59 L326.50 356.66 L327.50 357.13 L328.50 357.60 L329.50 358.07 L330.50 358.55 L331.50 359.02 L332.50 359.50 L333.50 359.97 L334.50 360.45 L335.50 360.92 L336.50 361.39 L337.50 361.86 L338.50 362.33 L339.50 362.79 L339.73 362.90 M342.87 364.34 L343.00 364.40 L344.00 364.85 L345.00 365.30 L346.00 365.74 L347.00 366.18 L348.00 366.62 L349.00 367.05 L350.00 367.48 L351.00 367.91 L352.00 368.33 L353.00 368.75 L354.00 369.17 L355.00 369.58 L356.00 369.99 L357.00 370.40 L358.00 370.80 L359.00 371.20 L360.00 371.60 L361.00 371.99 L362.00 372.38 L362.75 372.68 M365.90 373.88 L366.00 373.92 L367.00 374.29 L368.00 374.66 L369.00 375.03 L370.00 375.40 L371.00 375.76 L372.00 376.12 L373.00 376.48 L374.00 376.84 L375.00 377.19 L376.00 377.54 L377.00 377.88 L378.00 378.22 L379.00 378.56 L379.30 378.66 M382.45 379.72 L382.50 379.73 L383.50 380.06 L384.50 380.39 L385.50 380.71 L386.50 381.03 L387.50 381.34 L388.50 381.66 L389.50 381.97 L390.50 382.28 L391.50 382.58 L392.50 382.89 L393.50 383.19 L394.50 383.49 L395.50 383.78 L396.50 384.08 L397.50 384.37 L398.50 384.66 L399.50 384.94 L400.50 385.23 L401.50 385.51 L402.36 385.75 M405.52 386.62 L405.75 386.68 L406.75 386.95 L407.75 387.22 L408.75 387.48 L409.75 387.75 L410.75 388.01 L411.75 388.27 L412.75 388.53 L413.75 388.79 L414.75 389.04 L415.75 389.30 L416.75 389.55 L417.75 389.80 L418.75 390.05 L418.93 390.09 M422.08 390.87 L422.25 390.91 L423.25 391.15 L424.25 391.39 L425.25 391.63 L426.25 391.87 L427.25 392.11 L428.25 392.35 L429.25 392.59 L430.25 392.82 L431.25 393.06 L432.25 393.29 L433.25 393.53 L434.25 393.76 L435.25 393.99 L436.25 394.22 L437.25 394.45 L438.25 394.68 L439.25 394.91 L440.25 395.14 L441.25 395.37 L442.01 395.55 M445.17 396.27 L445.25 396.29 L446.25 396.52 L447.25 396.74 L448.25 396.97 L449.25 397.20 L450.25 397.43 L451.25 397.66 L452.25 397.89 L453.25 398.12 L454.25 398.35 L455.25 398.58 L456.25 398.81 L457.25 399.04 L458.25 399.27 L458.58 399.34 M461.74 400.08 L461.75 400.08 L462.75 400.31 L463.75 400.55 L464.75 400.78 L465.75 401.02 L466.75 401.26 L467.75 401.50 L468.75 401.74 L469.75 401.98 L470.75 402.22 L471.75 402.46 L472.75 402.71 L473.75 402.95 L474.75 403.20 L475.75 403.44 L476.75 403.69 L477.75 403.94 L478.75 404.19 L479.75 404.44 L480.75 404.69 L481.66 404.92 M484.82 405.72 L485.00 405.77 L486.00 406.02 L487.00 406.28 L488.00 406.53 L489.00 406.78 L490.00 407.04 L491.00 407.29 L492.00 407.55 L493.00 407.80 L494.00 408.06 L495.00 408.31 L496.00 408.56 L497.00 408.82 L498.00 409.07 L498.23 409.13 M501.39 409.92 L501.50 409.95 L502.50 410.20 L503.50 410.45 L504.50 410.69 L505.50 410.94 L506.50 411.19 L507.50 411.43 L508.50 411.68 L509.50 411.92 L510.50 412.16 L511.50 412.40 L512.50 412.64 L513.50 412.87 L514.50 413.11 L515.50 413.34 L516.50 413.57 L517.50 413.80 L518.50 414.03 L519.50 414.26 L520.50 414.48 L521.31 414.66 M524.47 415.35 L524.50 415.35 L525.50 415.57 L526.50 415.78 L527.50 415.98 L528.50 416.19 L529.50 416.39 L530.50 416.59 L531.50 416.79 L532.50 416.98 L533.50 417.18 L534.50 417.37 L535.50 417.55 L536.50 417.73 L537.50 417.91 L537.89 417.98 M541.05 418.52 L541.25 418.56 L542.25 418.72 L543.25 418.88 L544.25 419.04 L545.25 419.19 L546.25 419.34 L547.25 419.48 L548.25 419.62 L549.25 419.76 L550.25 419.89 L551.25 420.02 L552.25 420.15 L553.25 420.27 L554.25 420.39 L555.25 420.50 L556.25 420.61 L557.25 420.71 L558.25 420.81 L559.25 420.91 L560.25 421.00 L560.99 421.07 M564.15 421.33 L564.25 421.34 L565.25 421.41 L566.25 421.48 L567.25 421.55 L568.25 421.62 L569.25 421.68 L570.25 421.74 L571.25 421.79 L572.25 421.85 L573.25 421.90 L574.25 421.94 L575.25 421.99 L576.25 422.03 L577.25 422.07 L577.58 422.08 M580.74 422.19 L580.75 422.19 L581.75 422.22 L582.75 422.24 L583.75 422.27 L584.75 422.29 L585.75 422.31 L586.75 422.33 L587.75 422.34 L588.75 422.36 L589.75 422.37 L590.75 422.38 L591.75 422.39 L592.75 422.39 L593.75 422.40 L594.75 422.41 L595.75 422.41 L596.75 422.41 L597.75 422.41 L598.75 422.41 L599.75 422.41 L600.68 422.41 M603.84 422.39 L604.00 422.39 L605.00 422.39 L606.00 422.38 L607.00 422.37 L608.00 422.36 L609.00 422.36 L610.00 422.35 L611.00 422.34 L612.00 422.33 L613.00 422.32 L614.00 422.31 L615.00 422.30 L616.00 422.29 L617.00 422.28 L617.27 422.28 M620.43 422.25 L620.50 422.25 L621.50 422.24 L622.50 422.23 L623.50 422.23 L624.50 422.22 L625.50 422.21 L626.50 422.21 L627.50 422.20 L628.50 422.20 L629.50 422.20 L630.50 422.20 L631.50 422.19 L632.50 422.20 L633.50 422.20 L634.50 422.20 L635.50 422.20 L636.50 422.21 L637.50 422.22 L638.50 422.23 L639.50 422.24 L640.38 422.25 M643.54 422.30 L643.75 422.30 L644.75 422.32 L645.75 422.34 L646.75 422.37 L647.75 422.39 L648.75 422.42 L649.75 422.45 L650.75 422.49 L651.75 422.52 L652.75 422.56 L653.75 422.60 L654.75 422.65 L655.75 422.69 L656.75 422.74 L656.97 422.75 M660.13 422.93 L660.25 422.94 L661.25 423.00 L662.25 423.07 L663.25 423.13 L664.25 423.21 L665.25 423.28 L666.25 423.36 L667.25 423.44 L668.00 423.51"/>
<path d="M74.00 369.57 L75.00 370.10 L76.00 370.63 L77.00 371.16 L78.00 371.68 L79.00 372.19 L80.00 372.69 L81.00 373.19 L82.00 373.69 L83.00 374.18 L84.00 374.66 L85.00 375.13 L86.00 375.60 L87.00 376.07 L88.00 376.52 L89.00 376.97 L90.00 377.42 L91.00 377.85 L92.00 378.28 L93.00 378.71 L94.00 379.12 L95.00 379.53 L96.00 379.94 L97.00 380.33 L98.00 380.72 L99.00 381.10 L100.00 381.48 L101.00 381.84 L102.00 382.20 L103.00 382.56 L104.00 382.90 L105.00 383.24 L106.00 383.57 L107.00 383.89 L108.00 384.21 L109.00 384.51 L110.00 384.81 L111.00 385.10 L112.00 385.39 L113.00 385.66 L114.00 385.93 L115.00 386.19 L116.00 386.44 L117.00 386.69 L118.00 386.92 L119.00 387.15 L120.00 387.38 L121.00 387.60 L122.00 387.81 L123.00 388.01 L124.00 388.21 L125.00 388.40 L126.00 388.59 L127.00 388.77 L128.00 388.95 L129.00 389.13 L130.00 389.30 L131.00 389.46 L132.00 389.63 L133.00 389.78 L134.00 389.94 L135.00 390.09 L136.00 390.24 L137.00 390.39 L138.00 390.53 L139.00 390.68 L140.00 390.82 L141.00 390.96 L142.00 391.10 L143.00 391.23 L144.00 391.37 L145.00 391.51 L146.00 391.64 L147.00 391.78 L148.00 391.92 L149.00 392.05 L150.00 392.19 L151.00 392.33 L152.00 392.47 L153.00 392.61 L154.00 392.76 L155.00 392.90 L156.00 393.05 L157.00 393.19 L158.00 393.34 L159.00 393.49 L160.00 393.64 L161.00 393.80 L162.00 393.95 L163.00 394.11 L164.00 394.26 L165.00 394.42 L166.00 394.58 L167.00 394.74 L168.00 394.90 L169.00 395.06 L170.00 395.22 L171.00 395.39 L172.00 395.55 L173.00 395.72 L174.00 395.88 L175.00 396.05 L176.00 396.22 L177.00 396.39 L178.00 396.56 L179.00 396.73 L180.00 396.90 L181.00 397.07 L182.00 397.24 L183.00 397.42 L184.00 397.59 L185.00 397.77 L186.00 397.94 L187.00 398.12 L188.00 398.30 L189.00 398.47 L190.00 398.65 L191.00 398.83 L192.00 399.01 L193.00 399.19 L194.00 399.37 L195.00 399.55 L196.00 399.73 L197.00 399.91 L198.00 400.09 L199.00 400.27 L200.00 400.46 L201.00 400.64 L202.00 400.82 L203.00 401.00 L204.00 401.19 L205.00 401.37 L206.00 401.55 L207.00 401.73 L208.00 401.92 L209.00 402.10 L210.00 402.28 L211.00 402.47 L212.00 402.65 L213.00 402.83 L214.00 403.02 L215.00 403.20 L216.00 403.38 L217.00 403.56 L218.00 403.75 L219.00 403.93 L220.00 404.11 L221.00 404.29 L222.00 404.47 L223.00 404.65 L224.00 404.83 L225.00 405.02 L226.00 405.20 L227.00 405.37 L228.00 405.55 L229.00 405.73 L230.00 405.91 L231.00 406.09 L232.00 406.27 L233.00 406.44 L234.00 406.62 L235.00 406.79 L236.00 406.97 L237.00 407.14 L238.00 407.32 L239.00 407.49 L240.00 407.66 L241.00 407.83 L242.00 408.00 L243.00 408.17 L244.00 408.34 L245.00 408.51 L246.00 408.67 L247.00 408.84 L248.00 409.01 L249.00 409.17 L250.00 409.33 L251.00 409.49 L252.00 409.66 L253.00 409.82 L254.00 409.97 L255.00 410.13 L256.00 410.29 L257.00 410.44 L258.00 410.60 L259.00 410.75 L260.00 410.90 L261.00 411.05 L262.00 411.20 L263.00 411.35 L264.00 411.50 L265.00 411.64 L266.00 411.79 L267.00 411.93 L268.00 412.07 L269.00 412.21 L270.00 412.35 L271.00 412.49 L272.00 412.63 L273.00 412.76 L274.00 412.90 L275.00 413.03 L276.00 413.16 L277.00 413.29 L278.00 413.42 L279.00 413.55 L280.00 413.68 L281.00 413.80 L282.00 413.93 L283.00 414.05 L284.00 414.18 L285.00 414.30 L286.00 414.42 L287.00 414.54 L288.00 414.66 L289.00 414.78 L290.00 414.89 L291.00 415.01 L292.00 415.12 L293.00 415.24 L294.00 415.35 L295.00 415.46 L296.00 415.57 L297.00 415.68 L298.00 415.79 L299.00 415.89 L300.00 416.00 L301.00 416.11 L302.00 416.21 L303.00 416.31 L304.00 416.42 L305.00 416.52 L306.00 416.62 L307.00 416.72 L308.00 416.81 L309.00 416.91 L310.00 417.01 L311.00 417.10 L312.00 417.20 L313.00 417.29 L314.00 417.39 L315.00 417.48 L316.00 417.57 L317.00 417.66 L318.00 417.75 L319.00 417.84 L320.00 417.92 L321.00 418.01 L322.00 418.10 L323.00 418.18 L324.00 418.27 L325.00 418.35 L326.00 418.43 L327.00 418.51 L328.00 418.60 L329.00 418.68 L330.00 418.76 L331.00 418.83 L332.00 418.91 L333.00 418.99 L334.00 419.07 L335.00 419.14 L336.00 419.22 L337.00 419.29 L338.00 419.36 L339.00 419.44 L340.00 419.51 L341.00 419.58 L342.00 419.65 L343.00 419.72 L344.00 419.79 L345.00 419.86 L346.00 419.92 L347.00 419.99 L348.00 420.06 L349.00 420.12 L350.00 420.19 L351.00 420.25 L352.00 420.32 L353.00 420.38 L354.00 420.44 L355.00 420.51 L356.00 420.57 L357.00 420.63 L358.00 420.69 L359.00 420.75 L360.00 420.81 L361.00 420.86 L362.00 420.92 L363.00 420.98 L364.00 421.04 L365.00 421.09 L366.00 421.15 L367.00 421.20 L368.00 421.26 L369.00 421.31 L370.00 421.37 L371.00 421.42 L372.00 421.47 L373.00 421.52 L374.00 421.57 L375.00 421.63 L376.00 421.68 L377.00 421.73 L378.00 421.78 L379.00 421.83 L380.00 421.87 L381.00 421.92 L382.00 421.97 L383.00 422.02 L384.00 422.07 L385.00 422.11 L386.00 422.16 L387.00 422.20 L388.00 422.25 L389.00 422.30 L390.00 422.34 L391.00 422.39 L392.00 422.43 L393.00 422.47 L394.00 422.52 L395.00 422.56 L396.00 422.60 L397.00 422.64 L398.00 422.69 L399.00 422.73 L400.00 422.77 L401.00 422.81 L402.00 422.85 L403.00 422.89 L404.00 422.93 L405.00 422.97 L406.00 423.01 L407.00 423.05 L408.00 423.09 L409.00 423.13 L410.00 423.17 L411.00 423.21 L412.00 423.25 L413.00 423.29 L414.00 423.32 L415.00 423.36 L416.00 423.40 L417.00 423.44 L418.00 423.48 L419.00 423.51 L420.00 423.55 L421.00 423.59 L422.00 423.62 L423.00 423.66 L424.00 423.70 L425.00 423.73 L426.00 423.77 L427.00 423.81 L428.00 423.84 L429.00 423.88 L430.00 423.91 L431.00 423.95 L432.00 423.98 L433.00 424.02 L434.00 424.06 L435.00 424.09 L436.00 424.13 L437.00 424.16 L438.00 424.20 L439.00 424.23 L440.00 424.27 L441.00 424.30 L442.00 424.34 L443.00 424.37 L444.00 424.41 L445.00 424.45 L446.00 424.48 L447.00 424.52 L448.00 424.55 L449.00 424.59 L450.00 424.62 L451.00 424.66 L452.00 424.69 L453.00 424.73 L454.00 424.76 L455.00 424.80 L456.00 424.84 L457.00 424.87 L458.00 424.91 L459.00 424.94 L460.00 424.98 L461.00 425.01 L462.00 425.05 L463.00 425.08 L464.00 425.12 L465.00 425.16 L466.00 425.19 L467.00 425.23 L468.00 425.26 L469.00 425.30 L470.00 425.33 L471.00 425.37 L472.00 425.40 L473.00 425.44 L474.00 425.47 L475.00 425.51 L476.00 425.55 L477.00 425.58 L478.00 425.62 L479.00 425.65 L480.00 425.69 L481.00 425.72 L482.00 425.76 L483.00 425.79 L484.00 425.83 L485.00 425.86 L486.00 425.90 L487.00 425.93 L488.00 425.97 L489.00 426.00 L490.00 426.04 L491.00 426.07 L492.00 426.11 L493.00 426.14 L494.00 426.18 L495.00 426.21 L496.00 426.25 L497.00 426.28 L498.00 426.32 L499.00 426.35 L500.00 426.39 L501.00 426.42 L502.00 426.46 L503.00 426.49 L504.00 426.53 L505.00 426.56 L506.00 426.60 L507.00 426.63 L508.00 426.66 L509.00 426.70 L510.00 426.73 L511.00 426.77 L512.00 426.80 L513.00 426.84 L514.00 426.87 L515.00 426.90 L516.00 426.94 L517.00 426.97 L518.00 427.00 L519.00 427.04 L520.00 427.07 L521.00 427.11 L522.00 427.14 L523.00 427.17 L524.00 427.21 L525.00 427.24 L526.00 427.27 L527.00 427.31 L528.00 427.34 L529.00 427.37 L530.00 427.41 L531.00 427.44 L532.00 427.47 L533.00 427.50 L534.00 427.54 L535.00 427.57 L536.00 427.60 L537.00 427.64 L538.00 427.67 L539.00 427.70 L540.00 427.73 L541.00 427.76 L542.00 427.80 L543.00 427.83 L544.00 427.86 L545.00 427.89 L546.00 427.92 L547.00 427.96 L548.00 427.99 L549.00 428.02 L550.00 428.05 L551.00 428.08 L552.00 428.11 L553.00 428.14 L554.00 428.17 L555.00 428.21 L556.00 428.24 L557.00 428.27 L558.00 428.30 L559.00 428.33 L560.00 428.36 L561.00 428.39 L562.00 428.42 L563.00 428.45 L564.00 428.48 L565.00 428.51 L566.00 428.54 L567.00 428.57 L568.00 428.60 L569.00 428.63 L570.00 428.66 L571.00 428.69 L572.00 428.72 L573.00 428.74 L574.00 428.77 L575.00 428.80 L576.00 428.83 L577.00 428.86 L578.00 428.89 L579.00 428.92 L580.00 428.94 L581.00 428.97 L582.00 429.00 L583.00 429.03 L584.00 429.06 L585.00 429.08 L586.00 429.11 L587.00 429.14 L588.00 429.16 L589.00 429.19 L590.00 429.22 L591.00 429.25 L592.00 429.27 L593.00 429.30 L594.00 429.32 L595.00 429.35 L596.00 429.38 L597.00 429.40 L598.00 429.43 L599.00 429.45 L600.00 429.48 L601.00 429.51 L602.00 429.53 L603.00 429.56 L604.00 429.58 L605.00 429.60 L606.00 429.63 L607.00 429.65 L608.00 429.68 L609.00 429.70 L610.00 429.73 L611.00 429.75 L612.00 429.77 L613.00 429.80 L614.00 429.82 L615.00 429.84 L616.00 429.87 L617.00 429.89 L618.00 429.91 L619.00 429.93 L620.00 429.96 L621.00 429.98 L622.00 430.00 L623.00 430.02 L624.00 430.05 L625.00 430.07 L626.00 430.09 L627.00 430.11 L628.00 430.13 L629.00 430.15 L630.00 430.17 L631.00 430.19 L632.00 430.21 L633.00 430.23 L634.00 430.25 L635.00 430.27 L636.00 430.29 L637.00 430.31 L638.00 430.33 L639.00 430.35 L640.00 430.37 L641.00 430.39 L642.00 430.41 L643.00 430.42 L644.00 430.44 L645.00 430.46 L646.00 430.48 L647.00 430.49 L648.00 430.51 L649.00 430.53 L650.00 430.55 L651.00 430.56 L652.00 430.58 L653.00 430.60 L654.00 430.61 L655.00 430.63 L656.00 430.64 L657.00 430.66 L658.00 430.67 L659.00 430.69 L660.00 430.70 L661.00 430.72 L662.00 430.73 L663.00 430.75 L664.00 430.76 L665.00 430.78 L666.00 430.79 L667.00 430.80 L668.00 430.82"/>
<path d="M74.00 369.46 L74.25 369.57 L75.25 369.99 L76.25 370.41 L77.25 370.82 L78.25 371.23 L79.25 371.63 L80.25 372.03 L81.25 372.43 L82.25 372.82 L83.25 373.20 L84.25 373.58 L85.25 373.96 L85.61 374.09 M88.76 375.24 L89.00 375.32 L90.00 375.68 L91.00 376.03 L92.00 376.37 L93.00 376.72 L94.00 377.05 L95.00 377.39 L96.00 377.72 L97.00 378.04 L98.00 378.36 L99.00 378.68 L100.00 378.99 L101.00 379.30 L102.00 379.61 L102.16 379.66 M105.32 380.60 L105.50 380.65 L106.50 380.94 L107.50 381.23 L108.50 381.51 L109.50 381.79 L110.50 382.07 L111.50 382.34 L112.50 382.61 L113.50 382.88 L114.50 383.15 L115.50 383.41 L116.50 383.66 L117.50 383.92 L118.50 384.17 L119.50 384.42 L120.50 384.67 L121.50 384.91 L122.50 385.15 L123.50 385.39 L124.50 385.63 L125.24 385.80 M128.39 386.52 L128.50 386.54 L129.50 386.77 L130.50 386.99 L131.50 387.21 L132.50 387.43 L133.50 387.64 L134.50 387.85 L135.50 388.06 L136.50 388.27 L137.50 388.48 L138.50 388.69 L139.50 388.89 L140.50 389.09 L141.50 389.29 L141.81 389.35 M144.97 389.97 L145.00 389.98 L146.00 390.17 L147.00 390.36 L148.00 390.55 L149.00 390.74 L150.00 390.93 L151.00 391.11 L152.00 391.30 L153.00 391.48 L154.00 391.66 L155.00 391.85 L156.00 392.03 L157.00 392.21 L158.00 392.38 L159.00 392.56 L160.00 392.74 L161.00 392.92 L162.00 393.09 L163.00 393.26 L164.00 393.44 L164.90 393.59 M168.06 394.14 L168.25 394.17 L169.25 394.34 L170.25 394.51 L171.25 394.68 L172.25 394.84 L173.25 395.01 L174.25 395.18 L175.25 395.35 L176.25 395.51 L177.25 395.68 L178.25 395.85 L179.25 396.01 L180.25 396.18 L181.25 396.34 L181.48 396.38 M184.64 396.90 L184.75 396.92 L185.75 397.08 L186.75 397.25 L187.75 397.41 L188.75 397.58 L189.75 397.74 L190.75 397.90 L191.75 398.07 L192.75 398.23 L193.75 398.39 L194.75 398.55 L195.75 398.72 L196.75 398.88 L197.75 399.04 L198.75 399.20 L199.75 399.37 L200.75 399.53 L201.75 399.69 L202.75 399.85 L203.75 400.01 L204.58 400.15 M207.74 400.66 L207.75 400.66 L208.75 400.82 L209.75 400.98 L210.75 401.14 L211.75 401.30 L212.75 401.46 L213.75 401.62 L214.75 401.78 L215.75 401.94 L216.75 402.10 L217.75 402.25 L218.75 402.41 L219.75 402.57 L220.75 402.73 L221.16 402.79 M224.32 403.29 L224.50 403.31 L225.50 403.47 L226.50 403.63 L227.50 403.78 L228.50 403.93 L229.50 404.09 L230.50 404.24 L231.50 404.40 L232.50 404.55 L233.50 404.70 L234.50 404.85 L235.50 405.00 L236.50 405.15 L237.50 405.30 L238.50 405.45 L239.50 405.60 L240.50 405.75 L241.50 405.90 L242.50 406.05 L243.50 406.19 L244.26 406.30 M247.42 406.76 L247.50 406.78 L248.50 406.92 L249.50 407.06 L250.50 407.21 L251.50 407.35 L252.50 407.49 L253.50 407.63 L254.50 407.77 L255.50 407.91 L256.50 408.05 L257.50 408.19 L258.50 408.33 L259.50 408.47 L260.50 408.60 L260.84 408.65 M264.00 409.08 L264.25 409.11 L265.25 409.25 L266.25 409.38 L267.25 409.51 L268.25 409.65 L269.25 409.78 L270.25 409.91 L271.25 410.04 L272.25 410.17 L273.25 410.30 L274.25 410.43 L275.25 410.55 L276.25 410.68 L277.25 410.81 L278.25 410.93 L279.25 411.06 L280.25 411.18 L281.25 411.31 L282.25 411.43 L283.25 411.56 L283.94 411.64 M287.10 412.02 L287.25 412.04 L288.25 412.16 L289.25 412.28 L290.25 412.40 L291.25 412.52 L292.25 412.64 L293.25 412.75 L294.25 412.87 L295.25 412.99 L296.25 413.10 L297.25 413.22 L298.25 413.33 L299.25 413.45 L300.25 413.56 L300.53 413.59 M303.69 413.95 L303.75 413.95 L304.75 414.06 L305.75 414.17 L306.75 414.28 L307.75 414.39 L308.75 414.50 L309.75 414.61 L310.75 414.72 L311.75 414.82 L312.75 414.93 L313.75 415.04 L314.75 415.14 L315.75 415.25 L316.75 415.35 L317.75 415.45 L318.75 415.56 L319.75 415.66 L320.75 415.76 L321.75 415.86 L322.75 415.97 L323.63 416.05 M326.79 416.37 L327.00 416.39 L328.00 416.49 L329.00 416.59 L330.00 416.68 L331.00 416.78 L332.00 416.88 L333.00 416.97 L334.00 417.07 L335.00 417.16 L336.00 417.26 L337.00 417.35 L338.00 417.44 L339.00 417.54 L340.00 417.63 L340.22 417.65 M343.38 417.94 L343.50 417.95 L344.50 418.04 L345.50 418.13 L346.50 418.22 L347.50 418.30 L348.50 418.39 L349.50 418.48 L350.50 418.57 L351.50 418.65 L352.50 418.74 L353.50 418.83 L354.50 418.91 L355.50 419.00 L356.50 419.08 L357.50 419.16 L358.50 419.25 L359.50 419.33 L360.50 419.41 L361.50 419.50 L362.50 419.58 L363.32 419.64 M366.48 419.90 L366.50 419.90 L367.50 419.98 L368.50 420.06 L369.50 420.14 L370.50 420.21 L371.50 420.29 L372.50 420.37 L373.50 420.44 L374.50 420.52 L375.50 420.60 L376.50 420.67 L377.50 420.75 L378.50 420.82 L379.50 420.89 L379.91 420.92 M383.07 421.16 L383.25 421.17 L384.25 421.24 L385.25 421.31 L386.25 421.38 L387.25 421.45 L388.25 421.52 L389.25 421.59 L390.25 421.66 L391.25 421.73 L392.25 421.80 L393.25 421.87 L394.25 421.94 L395.25 422.00 L396.25 422.07 L397.25 422.14 L398.25 422.20 L399.25 422.27 L400.25 422.34 L401.25 422.40 L402.25 422.46 L403.01 422.51 M406.17 422.71 L406.25 422.72 L407.25 422.78 L408.25 422.84 L409.25 422.91 L410.25 422.97 L411.25 423.03 L412.25 423.09 L413.25 423.15 L414.25 423.21 L415.25 423.27 L416.25 423.33 L417.25 423.39 L418.25 423.45 L419.25 423.50 L419.60 423.52 M422.76 423.71 L423.00 423.72 L424.00 423.78 L425.00 423.83 L426.00 423.89 L427.00 423.94 L428.00 424.00 L429.00 424.05 L430.00 424.11 L431.00 424.16 L432.00 424.21 L433.00 424.27 L434.00 424.32 L435.00 424.37 L436.00 424.43 L437.00 424.48 L438.00 424.53 L439.00 424.58 L440.00 424.63 L441.00 424.68 L442.00 424.73 L442.71 424.77 M445.87 424.92 L446.00 424.93 L447.00 424.98 L448.00 425.03 L449.00 425.08 L450.00 425.12 L451.00 425.17 L452.00 425.22 L453.00 425.26 L454.00 425.31 L455.00 425.36 L456.00 425.40 L457.00 425.45 L458.00 425.49 L459.00 425.54 L459.30 425.55 M462.46 425.69 L462.50 425.69 L463.50 425.74 L464.50 425.78 L465.50 425.82 L466.50 425.87 L467.50 425.91 L468.50 425.95 L469.50 425.99 L470.50 426.03 L471.50 426.08 L472.50 426.12 L473.50 426.16 L474.50 426.20 L475.50 426.24 L476.50 426.28 L477.50 426.32 L478.50 426.36 L479.50 426.40 L480.50 426.44 L481.50 426.47 L482.40 426.51 M485.56 426.63 L485.75 426.64 L486.75 426.67 L487.75 426.71 L488.75 426.75 L489.75 426.78 L490.75 426.82 L491.75 426.86 L492.75 426.89 L493.75 426.93 L494.75 426.96 L495.75 427.00 L496.75 427.03 L497.75 427.07 L498.75 427.10 L498.99 427.11 M502.15 427.22 L502.25 427.22 L503.25 427.25 L504.25 427.29 L505.25 427.32 L506.25 427.35 L507.25 427.39 L508.25 427.42 L509.25 427.45 L510.25 427.48 L511.25 427.51 L512.25 427.54 L513.25 427.58 L514.25 427.61 L515.25 427.64 L516.25 427.67 L517.25 427.70 L518.25 427.73 L519.25 427.76 L520.25 427.79 L521.25 427.82 L522.10 427.84 M525.26 427.94 L525.50 427.94 L526.50 427.97 L527.50 428.00 L528.50 428.03 L529.50 428.06 L530.50 428.08 L531.50 428.11 L532.50 428.14 L533.50 428.17 L534.50 428.19 L535.50 428.22 L536.50 428.25 L537.50 428.27 L538.50 428.30 L538.69 428.30 M541.85 428.39 L542.00 428.39 L543.00 428.42 L544.00 428.44 L545.00 428.47 L546.00 428.49 L547.00 428.52 L548.00 428.54 L549.00 428.57 L550.00 428.59 L551.00 428.62 L552.00 428.64 L553.00 428.67 L554.00 428.69 L555.00 428.71 L556.00 428.74 L557.00 428.76 L558.00 428.78 L559.00 428.81 L560.00 428.83 L561.00 428.85 L561.80 428.87 M564.96 428.94 L565.00 428.95 L566.00 428.97 L567.00 428.99 L568.00 429.01 L569.00 429.03 L570.00 429.06 L571.00 429.08 L572.00 429.10 L573.00 429.12 L574.00 429.14 L575.00 429.17 L576.00 429.19 L577.00 429.21 L578.00 429.23 L578.39 429.24 M581.55 429.30 L581.75 429.31 L582.75 429.33 L583.75 429.35 L584.75 429.37 L585.75 429.39 L586.75 429.41 L587.75 429.43 L588.75 429.45 L589.75 429.47 L590.75 429.49 L591.75 429.51 L592.75 429.53 L593.75 429.55 L594.75 429.57 L595.75 429.59 L596.75 429.61 L597.75 429.63 L598.75 429.65 L599.75 429.67 L600.75 429.69 L601.50 429.70 M604.66 429.76 L604.75 429.76 L605.75 429.78 L606.75 429.80 L607.75 429.82 L608.75 429.84 L609.75 429.86 L610.75 429.88 L611.75 429.90 L612.75 429.91 L613.75 429.93 L614.75 429.95 L615.75 429.97 L616.75 429.99 L617.75 430.01 L618.09 430.01 M621.25 430.07 L621.25 430.07 L622.25 430.09 L623.25 430.11 L624.25 430.13 L625.25 430.14 L626.25 430.16 L627.25 430.18 L628.25 430.20 L629.25 430.22 L630.25 430.24 L631.25 430.25 L632.25 430.27 L633.25 430.29 L634.25 430.31 L635.25 430.33 L636.25 430.34 L637.25 430.36 L638.25 430.38 L639.25 430.40 L640.25 430.42 L641.19 430.43 M644.35 430.49 L644.50 430.49 L645.50 430.51 L646.50 430.53 L647.50 430.55 L648.50 430.57 L649.50 430.59 L650.50 430.60 L651.50 430.62 L652.50 430.64 L653.50 430.66 L654.50 430.68 L655.50 430.69 L656.50 430.71 L657.50 430.73 L657.78 430.74 M660.94 430.80 L661.00 430.80 L662.00 430.81 L663.00 430.83 L664.00 430.85 L665.00 430.87 L666.00 430.89 L667.00 430.91 L668.00 430.93"/>
</g>
<rect x="74.00" y="8.50" width="594.00" height="431.50" fill="none" stroke="#000" stroke-width="2.60"/>
<path d="M93.80 440.00 V437.00 M113.60 440.00 V434.00 M133.40 440.00 V437.00 M153.20 440.00 V437.00 M173.00 440.00 V437.00 M192.80 440.00 V434.00 M212.60 440.00 V437.00 M232.40 440.00 V437.00 M252.20 440.00 V437.00 M272.00 440.00 V434.00 M291.80 440.00 V437.00 M311.60 440.00 V437.00 M331.40 440.00 V437.00 M351.20 440.00 V434.00 M371.00 440.00 V437.00 M390.80 440.00 V437.00 M410.60 440.00 V437.00 M430.40 440.00 V434.00 M450.20 440.00 V437.00 M470.00 440.00 V437.00 M489.80 440.00 V437.00 M509.60 440.00 V434.00 M529.40 440.00 V437.00 M549.20 440.00 V437.00 M569.00 440.00 V437.00 M588.80 440.00 V434.00 M608.60 440.00 V437.00 M628.40 440.00 V437.00 M648.20 440.00 V437.00 M74.00 427.67 H76.70 M74.00 415.34 H76.70 M74.00 403.01 H76.70 M74.00 390.69 H76.70 M74.00 378.36 H79.50 M74.00 366.03 H76.70 M74.00 353.70 H76.70 M74.00 341.37 H76.70 M74.00 329.04 H76.70 M74.00 316.71 H79.50 M74.00 304.39 H76.70 M74.00 292.06 H76.70 M74.00 279.73 H76.70 M74.00 267.40 H76.70 M74.00 255.07 H79.50 M74.00 242.74 H76.70 M74.00 230.41 H76.70 M74.00 218.09 H76.70 M74.00 205.76 H76.70 M74.00 193.43 H79.50 M74.00 181.10 H76.70 M74.00 168.77 H76.70 M74.00 156.44 H76.70 M74.00 144.11 H76.70 M74.00 131.79 H79.50 M74.00 119.46 H76.70 M74.00 107.13 H76.70 M74.00 94.80 H76.70 M74.00 82.47 H76.70 M74.00 70.14 H79.50 M74.00 57.81 H76.70 M74.00 45.49 H76.70 M74.00 33.16 H76.70 M74.00 20.83 H76.70" stroke="#000" stroke-width="2.40" fill="none"/>
<text x="24.58 35.16 40.71 51.59 62.41" y="14.70" font-size="17.90" fill="#333" stroke="#333" stroke-width="0.15">3.500</text>
<text x="24.58 35.16 40.78 51.59 62.41" y="76.34" font-size="17.90" fill="#333" stroke="#333" stroke-width="0.15">3.000</text>
<text x="24.33 35.16 40.71 51.59 62.41" y="137.99" font-size="17.90" fill="#333" stroke="#333" stroke-width="0.15">2.500</text>
<text x="24.33 35.16 40.78 51.59 62.41" y="199.63" font-size="17.90" fill="#333" stroke="#333" stroke-width="0.15">2.000</text>
<text x="24.47 35.16 40.71 51.59 62.41" y="261.27" font-size="17.90" fill="#333" stroke="#333" stroke-width="0.15">1.500</text>
<text x="24.47 35.16 40.78 51.59 62.41" y="322.91" font-size="17.90" fill="#333" stroke="#333" stroke-width="0.15">1.000</text>
<text x="40.71 51.59 62.41" y="384.56" font-size="17.90" fill="#333" stroke="#333" stroke-width="0.15">500</text>
<text x="62.41" y="446.20" font-size="17.90" fill="#333" stroke="#333" stroke-width="0.15">0</text>
<text x="97.83 108.39 119.43" y="456.70" font-size="17.90" fill="#333" stroke="#333" stroke-width="0.15">320</text>
<text x="177.03 187.82 198.63" y="456.70" font-size="17.90" fill="#333" stroke="#333" stroke-width="0.15">340</text>
<text x="256.23 267.02 277.83" y="456.70" font-size="17.90" fill="#333" stroke="#333" stroke-width="0.15">360</text>
<text x="335.43 346.22 357.03" y="456.70" font-size="17.90" fill="#333" stroke="#333" stroke-width="0.15">380</text>
<text x="414.60 425.42 436.23" y="456.70" font-size="17.90" fill="#333" stroke="#333" stroke-width="0.15">400</text>
<text x="493.80 504.39 515.43" y="456.70" font-size="17.90" fill="#333" stroke="#333" stroke-width="0.15">420</text>
<text x="573.00 583.82 594.63" y="456.70" font-size="17.90" fill="#333" stroke="#333" stroke-width="0.15">440</text>
<text x="652.20 663.02 673.83" y="456.70" font-size="17.90" fill="#333" stroke="#333" stroke-width="0.15">460</text>
<g transform="scale(1.0800 1)"><text x="282.30 299.07 310.06 320.37 330.93 336.35 346.83 357.92 369.73 376.62" y="481.00" font-size="17.80" font-weight="bold" fill="#000" stroke="#000" stroke-width="0.50">Wavelength</text></g>
<g transform="scale(1.0800 1)"><text x="392.28 397.05 404.63 416.14" y="483.10" font-size="12.00" font-weight="bold" fill="#000" stroke="#000" stroke-width="0.35">(nm)</text></g>
<g transform="translate(15.20 352.80) rotate(-90)">
<g transform="scale(1.0800 1)"><text x="-0.30 10.91 16.18 27.13 38.52 45.93 56.07 65.00 75.13 85.62 96.03 106.16 122.17 127.46 139.16 146.21 156.69 167.48 177.22 183.07 189.93" y="0.00" font-size="17.80" font-weight="bold" fill="#000" stroke="#000" stroke-width="0.50">Fluorescenceintensity</text></g>
<g transform="scale(1.0800 1)"><text x="205.80 210.29 217.94 221.69 229.46 233.81" y="1.80" font-size="12.00" font-weight="bold" fill="#000" stroke="#000" stroke-width="0.35">(a.u.)</text></g>
</g>
<text x="280.31 293.45 303.25 312.68 325.70 335.61 340.94 344.65 357.17 368.42 382.33 391.48 395.25 403.42 408.62 417.68 426.74" y="33.60" font-size="15.20" fill="#1a1a1a" stroke="#1a1a1a" stroke-width="0.25">1SomaticH1histone</text>
<text x="280.19 293.45 303.25 312.68 325.70 335.61 340.94 344.65 357.17 368.42 382.33 391.48 395.25 403.42 408.62 417.68 426.74 441.64 457.07 466.37 480.15 488.97 505.66 516.63 524.97 535.93" y="50.36" font-size="15.20" fill="#1a1a1a" stroke="#1a1a1a" stroke-width="0.25">2SomaticH1histone+10µMCuCl</text>
<text x="539.76" y="51.96" font-size="10.50" fill="#1a1a1a" stroke="#1a1a1a" stroke-width="0.25">2</text>
<text x="280.40 293.77 304.35 314.26 319.59 323.77 332.12 345.47 353.41 362.41 371.80 377.80 395.73 406.98 420.88 430.03 433.80 441.97 447.17 456.23 465.29 480.19 495.62 504.92 518.70 527.53 544.21 555.18 563.52 574.48" y="67.12" font-size="15.20" fill="#1a1a1a" stroke="#1a1a1a" stroke-width="0.25">3NativespermH1histone+10µMCuCl</text>
<text x="578.31" y="68.72" font-size="10.50" fill="#1a1a1a" stroke="#1a1a1a" stroke-width="0.25">2</text>
<text x="280.38 293.95 305.26 314.21 323.46 331.98 341.60 350.72 354.71 363.96 368.05 376.51 386.42 391.67 400.62 414.23 422.17 431.17 440.56 446.56 464.48 475.73 489.64 498.78 502.56 510.72 515.93 524.99 534.04 548.95 564.37 573.67 587.45 596.28 612.96 623.93 632.28 643.24" y="83.88" font-size="15.20" fill="#1a1a1a" stroke="#1a1a1a" stroke-width="0.25">4DeguanidinatedspermH1histone+10µMCuCl</text>
<text x="647.07" y="85.48" font-size="10.50" fill="#1a1a1a" stroke="#1a1a1a" stroke-width="0.25">2</text>
<text x="280.33 293.95 305.26 314.21 323.46 331.98 341.60 350.72 354.71 363.96 368.05 376.51 386.42 391.67 400.62 414.23 422.17 431.17 440.56 446.56 464.48 475.73 489.64 498.78 502.56 510.72 515.93 524.99 534.04" y="100.64" font-size="15.20" fill="#1a1a1a" stroke="#1a1a1a" stroke-width="0.25">5DeguanidinatedspermH1histone</text>
<text x="280.38 293.77 304.35 314.26 319.59 323.77 332.12 345.47 353.41 362.41 371.80 377.80 395.73 406.98 420.88 430.03 433.80 441.97 447.17 456.23 465.29" y="117.40" font-size="15.20" fill="#1a1a1a" stroke="#1a1a1a" stroke-width="0.25">6NativespermH1histone</text>
<text x="192.47" y="34.60" font-size="15.20" fill="#111" stroke="#111" stroke-width="0.25">6</text>
<text x="193.19" y="244.00" font-size="15.20" fill="#111" stroke="#111" stroke-width="0.25">5</text>
<text x="193.02" y="294.10" font-size="15.20" fill="#111" stroke="#111" stroke-width="0.25">4</text>
<text x="194.22" y="331.00" font-size="15.20" fill="#111" stroke="#111" stroke-width="0.25">3</text>
<text x="195.87" y="386.90" font-size="15.20" fill="#111" stroke="#111" stroke-width="0.25">2</text>
<text x="197.77" y="418.50" font-size="15.20" fill="#111" stroke="#111" stroke-width="0.25">1</text>
</svg></body></html>
